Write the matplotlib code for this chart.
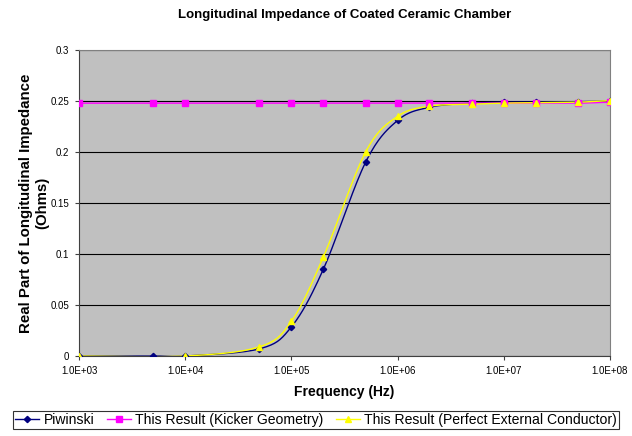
import matplotlib
matplotlib.use("Agg")
import matplotlib.pyplot as plt
import numpy as np
from matplotlib.ticker import FixedLocator, FuncFormatter

plt.rcParams['font.family'] = ['Liberation Sans', 'DejaVu Sans']

# data
freq_piw = [1e3, 5e3, 1e4, 5e4, 1e5, 2e5, 5e5, 1e6, 2e6, 5e6, 1e7, 2e7, 5e7, 1e8]
z_piw = [0.0, 0.0, 0.0, 0.007, 0.0285, 0.085, 0.19, 0.231, 0.244, 0.248, 0.249, 0.249, 0.2495, 0.25]

freq_kick = [1e3, 5e3, 1e4, 5e4, 1e5, 2e5, 5e5, 1e6, 2e6, 5e6, 1e7, 2e7, 5e7, 1e8]
z_kick = [0.248, 0.248, 0.248, 0.248, 0.248, 0.248, 0.248, 0.248, 0.248, 0.248, 0.248, 0.248, 0.248, 0.249]

freq_pec = [1e3, 1e4, 5e4, 1e5, 2e5, 5e5, 1e6, 2e6, 5e6, 1e7, 2e7, 5e7, 1e8]
z_pec = [0.0, 0.0, 0.009, 0.034, 0.097, 0.2, 0.235, 0.245, 0.247, 0.248, 0.2485, 0.249, 0.2505]


def smooth(xs, ys, n=20):
    # catmull-rom through the points in log-x, like Excel's smoothed line
    lx = np.log10(xs)
    ys = np.asarray(ys, float)
    px = np.concatenate([[lx[0]], lx, [lx[-1]]])
    py = np.concatenate([[ys[0]], ys, [ys[-1]]])
    outx, outy = [], []
    t = np.linspace(0, 1, n)
    for i in range(1, len(px) - 2):
        for p, out in ((px, outx), (py, outy)):
            p0, p1, p2, p3 = p[i - 1], p[i], p[i + 1], p[i + 2]
            out.extend(0.5 * ((2 * p1) + (-p0 + p2) * t
                              + (2 * p0 - 5 * p1 + 4 * p2 - p3) * t ** 2
                              + (-p0 + 3 * p1 - 3 * p2 + p3) * t ** 3))
    return 10 ** np.array(outx), np.array(outy)


fig = plt.figure(figsize=(6.32, 4.36), dpi=100)
ax = fig.add_axes([0.125, 0.1835, 0.84, 0.7015])
ax.set_facecolor('#C0C0C0')

series = [
    (freq_piw, z_piw, '#000080', 'D', 3.2, 'Piwinski'),
    (freq_kick, z_kick, '#FF00FF', 's', 4.5, 'This Result (Kicker Geometry)'),
    (freq_pec, z_pec, '#FFFF00', '^', 4.5, 'This Result (Perfect External Conductor)'),
]
for fx, fz, c, m, ms, lab in series:
    sx, sy = smooth(fx, fz)
    ax.plot(sx, sy, color=c, lw=1.0, zorder=3)
    ax.plot(fx, fz, linestyle='none', marker=m, ms=ms, color=c, mec=c, zorder=4)
    ax.plot([], [], color=c, lw=1.0, marker=m, ms=ms, label=lab)

ax.set_xscale('log')
ax.set_xlim(1e3, 1e8)
ax.set_ylim(0, 0.3)
ax.xaxis.set_major_locator(FixedLocator([1e3, 1e4, 1e5, 1e6, 1e7, 1e8]))
ax.xaxis.set_minor_locator(FixedLocator([]))
ax.xaxis.set_major_formatter(FuncFormatter(lambda v, p: '%.1fE+%02d' % (v / 10 ** int(round(np.log10(v))), int(round(np.log10(v))))))
ax.set_yticks([0, 0.05, 0.1, 0.15, 0.2, 0.25, 0.3])
ax.set_yticklabels(['0', '0.05', '0.1', '0.15', '0.2', '0.25', '0.3'])
ax.tick_params(labelsize=7, length=3, direction='out', width=0.8, color='#404040', pad=4)
ax.yaxis.grid(True, color='black', lw=0.8)
ax.set_axisbelow(True)
for s in ['top', 'right']:
    ax.spines[s].set_color('#808080')
for s in ['left', 'bottom']:
    ax.spines[s].set_color('#404040')

ax.set_title('Longitudinal Impedance of Coated Ceramic Chamber', fontsize=9.5, fontweight='bold', pad=23)
ax.set_xlabel('Frequency (Hz)', fontsize=10, fontweight='bold', labelpad=7)
ax.set_ylabel('Real Part of Longitudinal Impedance\n(Ohms)', fontsize=10.8, fontweight='bold', labelpad=1)

leg = fig.legend(loc='lower center', bbox_to_anchor=(0.5, 0.0), ncol=3, fontsize=10.1,
                 frameon=True, fancybox=False, edgecolor='black', handlelength=1.7,
                 handletextpad=0.3, columnspacing=0.9, borderpad=0.15)
leg.get_frame().set_linewidth(0.8)

fig.savefig('out.png', dpi=100)
